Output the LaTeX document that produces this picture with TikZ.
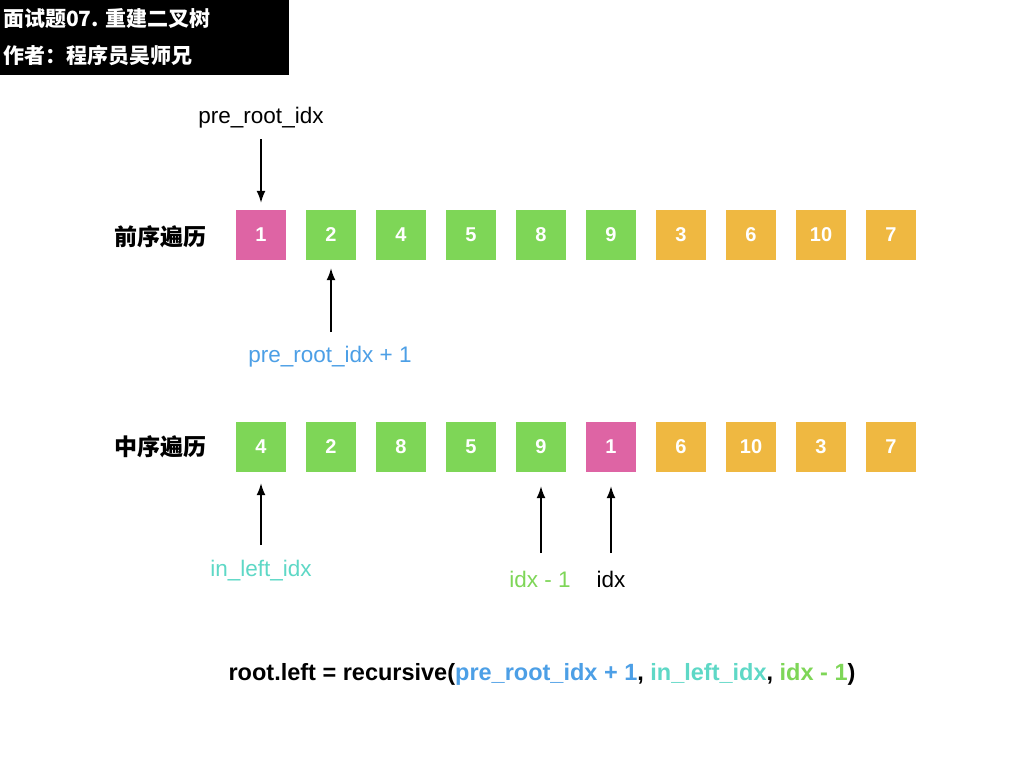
\documentclass[tikz,border=0pt]{standalone}
\usepackage{fontspec}
\setmainfont{Liberation Sans}
\newfontfamily\cjk{Noto Sans CJK SC}
\usepackage{xcolor}
\usetikzlibrary{arrows.meta,positioning}
\definecolor{rootpink}{HTML}{DE64A4}
\definecolor{leftgreen}{HTML}{7ED657}
\definecolor{rightorange}{HTML}{EFB841}
\definecolor{preblue}{HTML}{4C9FE6}
\definecolor{incyan}{HTML}{5ED8C6}
\tikzset{
    cell/.style={minimum size=50pt, inner sep=0pt, text=white, font=\fontsize{20}{20}\selectfont\bfseries},
    rowname/.style={font=\cjk\fontsize{23}{23}\selectfont\bfseries},
    idxlabel/.style={font=\fontsize{22.5}{22.5}\selectfont},
    pointer/.style={-{Latex[length=12pt,width=9pt]}, line width=1.5pt}}

\begin{document}
\begin{tikzpicture}[x=1pt,y=-1pt]
\useasboundingbox[fill=white] (0,0) rectangle (1024,768);

% title block
\fill[black] (0,0) rectangle (289,75);
\node[anchor=west, inner sep=0pt, text=white, font=\cjk\fontsize{21}{21}\selectfont\bfseries] (title) at (3,19) {面试题07. 重建二叉树};
\node[anchor=west, inner sep=0pt, text=white, font=\cjk\fontsize{21}{21}\selectfont\bfseries] (author) at (3,56) {作者：程序员吴师兄};

% rows
\node[rowname] (pre) at (160,237) {前序遍历};
\node[rowname] (in) at (160,447) {中序遍历};

\foreach \v/\c [count=\i] in {1/rootpink,2/leftgreen,4/leftgreen,5/leftgreen,8/leftgreen,9/leftgreen,3/rightorange,6/rightorange,10/rightorange,7/rightorange}
  \node[cell, fill=\c] (p\i) at ({191+70*\i},235) {\v};

\foreach \v/\c [count=\i] in {4/leftgreen,2/leftgreen,8/leftgreen,5/leftgreen,9/leftgreen,1/rootpink,6/rightorange,10/rightorange,3/rightorange,7/rightorange}
  \node[cell, fill=\c] (q\i) at ({191+70*\i},447) {\v};

% pointers, preorder
\node[idxlabel] (preroot) at (261,118) {pre\_root\_idx};
\coordinate (t1) at (261,139);
\draw[pointer, shorten >=7pt] (t1) -- (p1.north);

\node[idxlabel, text=preblue] (preleft) at (330,357) {pre\_root\_idx + 1};
\coordinate (t2) at (331,332);
\draw[pointer, shorten >=8pt] (t2) -- (p2.south);

% pointers, inorder
\node[idxlabel, text=incyan] (inleft) at (261,571) {in\_left\_idx};
\coordinate (t3) at (261,545);
\draw[pointer, shorten >=11pt] (t3) -- (q1.south);

\node[idxlabel, text=leftgreen] (idxm) at (540,579) {idx - 1};
\coordinate (t4) at (541,553);
\draw[pointer, shorten >=14pt] (t4) -- (q5.south);

\node[idxlabel] (idx) at (611,579) {idx};
\coordinate (t5) at (611,553);
\draw[pointer, shorten >=14pt] (t5) -- (q6.south);

% call
\node[font=\fontsize{23.5}{23.5}\selectfont\bfseries] (call) at (542,674) {root.left = recursive(\textcolor{preblue}{pre\_root\_idx + 1}, \textcolor{incyan}{in\_left\_idx}, \textcolor{leftgreen}{idx - 1})};
\end{tikzpicture}
\end{document}
